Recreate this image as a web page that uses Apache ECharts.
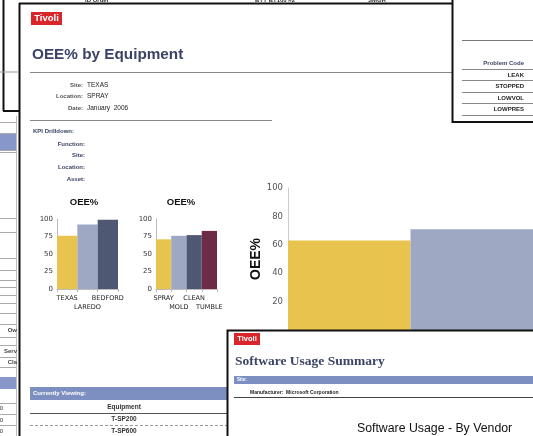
<!DOCTYPE html>
<html><head><meta charset="utf-8">
<script src="https://cdn.jsdelivr.net/npm/echarts@6/dist/echarts.min.js"></script>
<style>html,body{margin:0;padding:0;background:#fff;overflow:hidden}#c{width:533px;height:436px}</style>
</head><body><div id="c"></div>
<script>
// ---- data ----
const siteCats = ['TEXAS', 'LAREDO', 'BEDFORD'];
const siteOEE = [76, 92, 99];
const locCats = ['SPRAY', 'MOLD', 'CLEAN', 'TUMBLE'];
const locOEE = [71, 76, 77, 83];
const equipCats = ['T-SP200', 'T-SP600'];
const equipOEE = [63, 71];
const smallTicks = [0, 25, 50, 75, 100];
const bigTicks = [0, 20, 40, 60, 80, 100];
const problemCodes = ['LEAK', 'STOPPED', 'LOWVOL', 'LOWPRES'];
const equipmentList = ['T-SP200', 'T-SP600'];
const siteInfo = [['Site:', 'TEXAS'], ['Location:', 'SPRAY'], ['Date:', 'January  2006']];
const kpiFields = ['Function:', 'Site:', 'Location:', 'Asset:'];

// ---- styles ----
const barColors = ['#e8c44e', '#9ea8c3', '#4f5872', '#6d2b46'];
const NAVY = '#3b4465';
const BAND = '#7d8ec0';
const SANS = '"Liberation Sans", Arial, sans-serif';
const DJV = '"DejaVu Sans", sans-serif';

const G = [];
function line(x1, y1, x2, y2, color, w, z, dash) {
  G.push({type: 'line', z: z || 1, silent: true,
    shape: {x1, y1, x2, y2},
    style: {stroke: color, lineWidth: w || 1, lineDash: dash || null}});
}
function rect(x, y, w, h, fill, stroke, lw, z) {
  G.push({type: 'rect', z: z || 1, silent: true,
    shape: {x, y, width: w, height: h},
    style: {fill: fill || 'none', stroke: stroke || null, lineWidth: lw || 0}});
}
function text(x, y, s, o) {
  o = o || {};
  G.push({type: 'text', z: o.z || 2, silent: true, x, y, rotation: o.rot || 0,
    style: {text: s, fill: o.color || '#222', fontSize: o.size || 7,
      fontWeight: o.bold ? 'bold' : 'normal', fontFamily: o.font || SANS,
      align: o.align || 'left', verticalAlign: 'middle'}});
}

// background left window fragments
line(3.5, 0, 3.5, 111, '#111', 2);
line(3, 111, 19, 111, '#111', 2);
line(0, 72, 18, 72, '#999', 1);
rect(0, 133, 16, 17, '#8797c9');
[122, 133, 150, 152, 218, 232, 258, 270, 280, 287, 295, 303, 313, 324, 337, 345, 357, 367, 403, 414, 425]
  .forEach(y => line(0, y + 0.5, 17, y + 0.5, '#aaa', 1));
rect(0, 377, 17, 12, '#8797c9');
line(16.5, 116, 16.5, 436, '#bbb', 1);
text(17, 330, 'Ow', {size: 6, bold: true, color: '#444', align: 'right'});
text(17, 351, 'Serv', {size: 6, bold: true, color: '#444', align: 'right'});
text(17, 362, 'Cla', {size: 6, bold: true, color: '#444', align: 'right'});
text(0, 400, 's', {size: 6, bold: true, color: '#444', align: 'right'});
[408, 420, 431].forEach(y => text(3, y, '0', {size: 6, color: '#333', align: 'right'}));

// top clipped fragments
text(85, 0, 'ID Order', {size: 6, bold: true, color: '#333'});
text(255, 0, 'BYT BT100 #2', {size: 6, bold: true, color: '#333'});
text(368, 0, 'SMGR', {size: 6, bold: true, color: '#333'});

// main window border
line(19.5, 3, 19.5, 436, '#111', 2);
line(19, 3.5, 453, 3.5, '#111', 2);

// Tivoli logo
rect(31, 12, 31, 13, '#d9262a');
text(46.5, 18.5, 'Tivoli', {size: 9.5, bold: true, color: '#fff', align: 'center'});
text(32, 55, 'OEE% by Equipment', {size: 15.3, bold: true, color: NAVY});
line(30, 72.5, 452, 72.5, '#888', 1);
siteInfo.forEach((r, i) => {
  const y = 85 + i * 11.5;
  text(83, y, r[0], {size: 6, bold: true, color: '#555', align: 'right'});
  text(87, y, r[1], {size: 6.5, color: '#222'});
});
line(30, 120.5, 272, 120.5, '#888', 1);
text(33, 131, 'KPI Drilldown:', {size: 6, bold: true, color: NAVY});
kpiFields.forEach((f, i) => text(85, 144 + i * 11.7, f, {size: 6, bold: true, color: NAVY, align: 'right'}));
text(84, 202, 'OEE%', {size: 9.5, bold: true, color: '#111', align: 'center'});
text(181, 202, 'OEE%', {size: 9.5, bold: true, color: '#111', align: 'center'});

// currently viewing table
rect(30, 387, 200, 13, BAND);
text(33, 393.5, 'Currently Viewing:', {size: 6, bold: true, color: '#fff'});
text(124, 407, 'Equipment', {size: 6.5, bold: true, color: '#333', align: 'center'});
line(30, 413.5, 227, 413.5, '#555', 1);
equipmentList.forEach((e, i) => text(124, 419.5 + i * 12, e, {size: 6.5, bold: true, color: '#333', align: 'center'}));
line(30, 425.5, 227, 425.5, '#999', 1, 1, [3, 2]);

// right top window (Problem Code)
rect(452.5, -5, 90, 127, '#fff', '#111', 2, 50);
line(462, 40.5, 533, 40.5, '#777', 1, 51);
text(524, 63, 'Problem Code', {size: 6, bold: true, color: NAVY, align: 'right', z: 52});
[69, 80, 92, 103, 115].forEach(y => line(462, y + 0.5, 533, y + 0.5, '#888', 1, 51));
problemCodes.forEach((p, i) => text(524, 75 + i * 11.5, p, {size: 6, bold: true, color: '#222', align: 'right', z: 52}));

// software usage window (on top)
rect(227.5, 330.5, 320, 120, '#fff', '#111', 2, 100);
rect(234, 333, 26, 12, '#d9262a', null, 0, 101);
text(247, 339, 'Tivoli', {size: 7.5, bold: true, color: '#fff', align: 'center', z: 102});
text(235, 362, 'Software Usage Summary', {size: 13.5, bold: true, color: NAVY, font: '"Liberation Serif", serif', z: 102});
rect(234, 376, 300, 8, BAND, null, 0, 101);
text(237, 380, 'Site:', {size: 4.5, bold: true, color: '#fff', z: 102});
text(250, 393, 'Manufacturer:  Microsoft Corporation', {size: 5, bold: true, color: '#222', z: 102});
line(234, 397.5, 533, 397.5, '#444', 1, 101);
text(357, 429, 'Software Usage - By Vendor', {size: 12.3, color: '#111', z: 102});

// ---- charts ----
function smallY(gi) {
  return {gridIndex: gi, type: 'value', min: smallTicks[0], max: smallTicks[smallTicks.length - 1],
    interval: smallTicks[1] - smallTicks[0],
    axisLine: {show: true, lineStyle: {color: '#bbb'}}, axisTick: {show: false}, splitLine: {show: false},
    axisLabel: {fontSize: 7, color: '#333', fontFamily: DJV, margin: 4}};
}
function smallX(gi, cats) {
  return {gridIndex: gi, type: 'category', data: cats,
    axisLine: {lineStyle: {color: '#bbb'}},
    axisTick: {show: true, length: 3, lineStyle: {color: '#bbb'}},
    axisLabel: {interval: 0, fontSize: 6.5, color: '#222', fontFamily: DJV, margin: 5, lineHeight: 9,
      formatter: (v, i) => (i % 2 ? '\n' + v : v)}};
}
const colorByIndex = p => barColors[p.dataIndex];

const option = {
  animation: false,
  backgroundColor: '#fff',
  grid: [
    {left: 57, top: 219, width: 61, height: 70},
    {left: 156, top: 219, width: 61, height: 70},
    {left: 288, top: 188, width: 250, height: 142}
  ],
  xAxis: [
    smallX(0, siteCats),
    smallX(1, locCats),
    {gridIndex: 2, type: 'category', data: equipCats, axisLine: {show: false}, axisTick: {show: false}, axisLabel: {show: false}}
  ],
  yAxis: [
    smallY(0),
    smallY(1),
    {gridIndex: 2, type: 'value', min: bigTicks[0], max: bigTicks[bigTicks.length - 1], interval: bigTicks[1] - bigTicks[0],
      name: 'OEE%', nameLocation: 'middle', nameGap: 22, nameRotate: 90,
      nameTextStyle: {fontSize: 14, fontWeight: 'bold', color: '#111', fontFamily: SANS},
      axisLine: {show: true, lineStyle: {color: '#ccc'}}, axisTick: {show: false}, splitLine: {show: false},
      axisLabel: {showMinLabel: false, fontSize: 8.5, color: '#555', fontFamily: DJV, margin: 5}}
  ],
  series: [
    {type: 'bar', xAxisIndex: 0, yAxisIndex: 0, data: siteOEE, barCategoryGap: '0%', itemStyle: {color: colorByIndex}},
    {type: 'bar', xAxisIndex: 1, yAxisIndex: 1, data: locOEE, barCategoryGap: '0%', itemStyle: {color: colorByIndex}},
    {type: 'bar', xAxisIndex: 2, yAxisIndex: 2, data: equipOEE, barCategoryGap: '0%', itemStyle: {color: colorByIndex}}
  ],
  graphic: G
};
const chart = echarts.init(document.getElementById('c'), null, {renderer: 'canvas', width: 533, height: 436});
chart.setOption(option);
</script>
</body></html>
